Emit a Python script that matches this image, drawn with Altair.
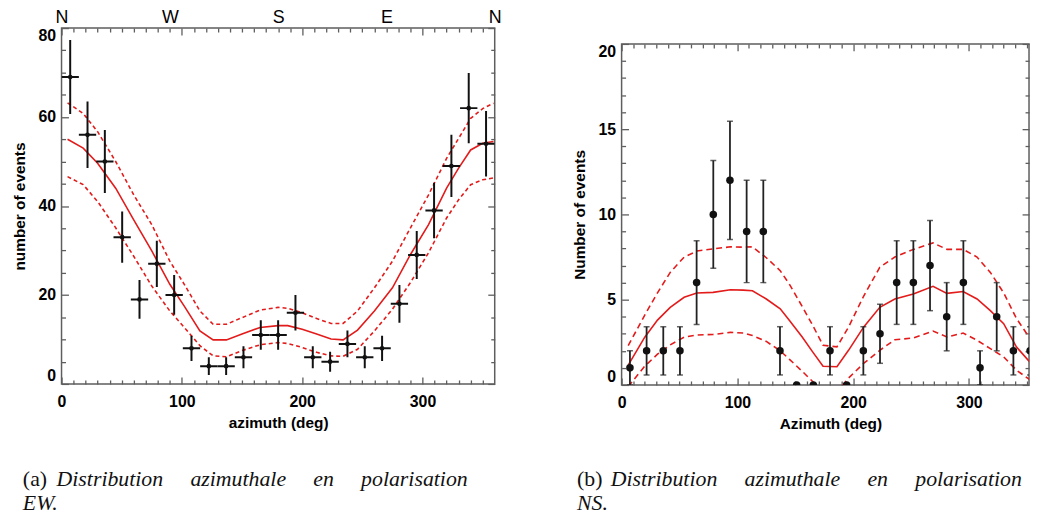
import altair as alt
import pandas as pd

# ---------------- data ----------------
AZIMUTH = [7.2, 21.6, 36.0, 50.4, 64.8, 79.2, 93.6, 108.0, 122.4, 136.8, 151.2, 165.6, 180.0,
           194.4, 208.8, 223.2, 237.6, 252.0, 266.4, 280.8, 295.2, 309.6, 324.0, 338.4, 352.8]
COUNTS_EW = [69, 56, 50, 33, 19, 27, 20, 8, 4, 4, 6, 11, 11, 16, 6, 5, 9, 6, 8, 18, 29, 39, 49, 62, 54]
COUNTS_NS = [1, 2, 2, 2, 6, 10, 12, 9, 9, 2, 0, 0, 2, 0, 2, 3, 6, 6, 7, 4, 6, 1, 4, 2, 2]

MODEL_AZ_EW = [5, 18, 30, 45, 60, 75, 90, 102, 115, 126, 137, 150, 165, 180, 188, 200, 212, 224,
               234, 246, 260, 275, 290, 305, 320, 330, 340, 350, 359]
MODEL_EW = [55.0, 53.0, 49.6, 44.0, 36.9, 29.9, 22.4, 17.5, 11.9, 9.9, 9.9, 11.2, 12.7, 13.1, 13.1,
            12.3, 11.2, 10.1, 9.9, 12.1, 16.4, 21.6, 29.1, 35.8, 44.0, 48.5, 52.6, 54.1, 54.5]
UPPER_EW = [63.2, 60.8, 56.7, 50.0, 42.5, 35.8, 27.6, 22.4, 16.4, 13.4, 13.4, 14.9, 16.6, 17.2, 17.0,
            16.0, 14.7, 13.6, 13.6, 16.4, 21.6, 27.6, 35.1, 42.5, 50.7, 55.2, 59.7, 61.9, 63.1]
LOWER_EW = [46.6, 44.8, 41.0, 35.1, 28.7, 22.0, 16.4, 12.7, 8.6, 6.3, 6.1, 7.5, 8.8, 9.3, 9.1,
            8.2, 7.1, 6.3, 6.2, 7.8, 11.9, 16.8, 22.8, 29.5, 37.3, 41.4, 44.8, 45.9, 46.3]

MODEL_AZ_NS = [5.7, 20, 31, 42, 54, 65, 79, 94, 105, 113, 125, 137, 145, 156, 165, 174, 186, 196,
               209, 223, 236, 252, 269, 281, 295, 307, 318.5, 330, 341, 355]
MODEL_NS = [1.16, 2.8, 3.8, 4.55, 5.14, 5.39, 5.43, 5.58, 5.56, 5.52, 5.04, 4.46, 3.78, 2.81, 1.94,
            1.1, 1.07, 2.03, 3.39, 4.55, 5.04, 5.33, 5.78, 5.37, 5.48, 5.04, 4.36, 3.59, 2.23, 1.16]
UPPER_NS = [2.3, 4.1, 5.4, 6.6, 7.5, 7.85, 7.98, 8.1, 8.08, 8.1, 7.46, 6.7, 5.9, 4.6, 3.5,
            2.33, 2.23, 3.39, 5.2, 6.9, 7.5, 7.95, 8.33, 7.95, 7.95, 7.5, 6.6, 5.4, 3.9, 2.5]
LOWER_NS = [-0.1, 1.1, 1.8, 2.35, 2.8, 2.93, 2.96, 3.08, 3.05, 2.9, 2.55, 2.0, 1.5, 0.8, 0.2,
            -0.4, -0.4, 0.4, 1.26, 2.03, 2.65, 2.75, 3.16, 2.81, 3.04, 2.62, 2.13, 1.65, 0.87, 0.19]

X_MAJOR = [0, 100, 200, 300]
X_MINOR = [v for v in range(10, 360, 10) if v % 100 != 0]
COMPASS_VALUES = [0, 90, 180, 270, 360]
COMPASS_LABELS = ["N", "W", "S", "E", "N"]
Y_MAJOR_EW = [0, 20, 40, 60, 80]
Y_MINOR_EW = [v for v in range(5, 80, 5) if v % 20 != 0]
Y_MAJOR_NS = [0, 5, 10, 15, 20]
Y_MINOR_NS = [v for v in range(1, 20) if v % 5 != 0]

CAPTION_PREFIX = ["(a)", "(b)"]
CAPTION_EW = ["Distribution azimuthale en polarisation", "EW."]
CAPTION_NS = ["Distribution azimuthale en polarisation", "NS."]

# ---------------- style ----------------
RED = "#e31b1b"
INK = "#111111"
FRAME = "#5e5e5e"
SANS = "Liberation Sans, Arial, sans-serif"
SERIF = "Liberation Serif, Times New Roman, serif"
MAJ, MIN = 7, 4
NBSP_GAP = "\u00a0" * 5


def axis(orient, values, size, labels=False, title=None, **kw):
    return alt.Axis(orient=orient, values=values, tickSize=size, offset=-size, domain=False,
                    grid=False, labels=labels, ticks=True, tickColor=FRAME, tickWidth=1.3,
                    title=title, minExtent=0, **kw)


def caption_layers(prefix, lines, x0, y0, gap):
    out = []
    out.append(alt.Chart(pd.DataFrame({"t": [prefix]})).mark_text(
        font=SERIF, fontSize=22, align="left", baseline="alphabetic", color="#111")
        .encode(text="t:N", x=alt.value(x0), y=alt.value(y0)))
    out.append(alt.Chart(pd.DataFrame({"t": [lines[0].replace(" ", gap)]})).mark_text(
        font=SERIF, fontSize=22, fontStyle="italic", align="left", baseline="alphabetic", color="#111")
        .encode(text="t:N", x=alt.value(x0 + 34), y=alt.value(y0)))
    out.append(alt.Chart(pd.DataFrame({"t": [lines[1]]})).mark_text(
        font=SERIF, fontSize=22, fontStyle="italic", align="left", baseline="alphabetic", color="#111")
        .encode(text="t:N", x=alt.value(x0), y=alt.value(y0 + 24)))
    return out


def panel(counts, model_az, model, upper, lower, ydom, ymaj, ymin, xmax, width, height,
          xtitle, ytitle, compass, caption, prefix, cap_x, cap_y, big, gap, title_x):
    xs = alt.Scale(domain=[0, xmax], nice=False, zero=False)
    ys = alt.Scale(domain=ydom, nice=False, zero=False)
    pts = pd.DataFrame({"az": AZIMUTH, "n": counts})
    mdf = pd.DataFrame({"az": model_az, "model": model, "upper": upper, "lower": lower})
    half = 180.0 / len(AZIMUTH)
    xmaj = [v for v in X_MAJOR if v <= xmax]
    xmin = [v for v in X_MINOR if v <= xmax]

    bottom_major = axis("bottom", xmaj, MAJ, labels=True, title=xtitle, labelPadding=10,
                        titlePadding=6, labelFlush=False, titleX=title_x)
    left_major = axis("left", ymaj, MAJ, labels=True, title=ytitle, labelPadding=6,
                      titlePadding=11, labelFlush=True)
    dash = [4, 3] if not big else [6, 4]

    layers = []
    layers.append(alt.Chart(mdf).mark_line(color=RED, strokeWidth=1.6, clip=True).encode(
        x=alt.X("az:Q", scale=xs, axis=bottom_major),
        y=alt.Y("model:Q", scale=ys, axis=left_major)))
    layers.append(alt.Chart(mdf).mark_line(color=RED, strokeWidth=1.6, strokeDash=dash, clip=True).encode(
        x=alt.X("az:Q", scale=xs, axis=axis("bottom", xmin, MIN)),
        y=alt.Y("upper:Q", scale=ys, axis=axis("left", ymin, MIN))))
    layers.append(alt.Chart(mdf).mark_line(color=RED, strokeWidth=1.6, strokeDash=dash, clip=True).encode(
        x=alt.X("az:Q", scale=xs, axis=axis("top", xmaj, MAJ)),
        y=alt.Y("lower:Q", scale=ys, axis=axis("right", ymaj, MAJ))))
    err = alt.Chart(pts).transform_calculate(
        lo="max(datum.n - sqrt(datum.n), 0)", hi="datum.n + sqrt(datum.n)")
    layers.append(err.mark_rule(color=INK if not big else "#222", strokeWidth=2 if not big else 1.8,
                                clip=True).encode(
        x=alt.X("az:Q", scale=xs, axis=axis("top", xmin, MIN)),
        y=alt.Y("lo:Q", scale=ys, axis=axis("right", ymin, MIN)),
        y2="hi:Q"))
    if compass:
        expr = "{" + ",".join(f"'{v}':'{l}'" for v, l in zip(COMPASS_VALUES, COMPASS_LABELS)) + "}[datum.value]"
        compass_axis = alt.Axis(orient="top", values=COMPASS_VALUES, ticks=False, domain=False,
                                grid=False, labelExpr=expr, labelFont=SANS,
                                labelFontWeight="normal", labelFontSize=18, labelPadding=2,
                                title=None, labelFlush=False, minExtent=0)
        layers.append(err.transform_calculate(a0=f"datum.az - {half}", a1=f"datum.az + {half}")
                      .mark_rule(color=INK, strokeWidth=2, clip=True).encode(
            x=alt.X("a0:Q", scale=xs, axis=compass_axis), x2="a1:Q",
            y=alt.Y("n:Q", scale=ys, axis=None)))
        layers.append(alt.Chart(pts).mark_circle(size=22, color=INK, opacity=1, clip=True).encode(
            x=alt.X("az:Q", scale=xs, axis=None), y=alt.Y("n:Q", scale=ys, axis=None)))
    else:
        layers.append(err.transform_filter("datum.n > 0").transform_fold(["lo", "hi"], as_=["k", "v"])
                      .mark_tick(orient="horizontal", size=6, thickness=1.5, color="#222", clip=True)
                      .encode(x=alt.X("az:Q", scale=xs, axis=None),
                              y=alt.Y("v:Q", scale=ys, axis=None)))
        layers.append(alt.Chart(pts).mark_circle(size=58, color=INK, opacity=1, clip=True).encode(
            x=alt.X("az:Q", scale=xs, axis=None), y=alt.Y("n:Q", scale=ys, axis=None)))
    layers += caption_layers(prefix, caption, cap_x, cap_y, gap)
    return alt.layer(*layers).resolve_axis(x="independent", y="independent").properties(
        width=width, height=height)


panel_a = panel(COUNTS_EW, MODEL_AZ_EW, MODEL_EW, UPPER_EW, LOWER_EW, [0, 80], Y_MAJOR_EW,
                Y_MINOR_EW, 360, 437, 359, "azimuth (deg)", "number of events", True,
                CAPTION_EW, CAPTION_PREFIX[0], -39, 462, False, NBSP_GAP, 218.5)
panel_b = panel(COUNTS_NS, MODEL_AZ_NS, MODEL_NS, UPPER_NS, LOWER_NS, [0, 20], Y_MAJOR_NS,
                Y_MINOR_NS, 351.9, 411, 344, "Azimuth (deg)", "Number of events", False,
                CAPTION_NS, CAPTION_PREFIX[1], -45, 446, True, NBSP_GAP, 210.6)

spacer = alt.Chart(pd.DataFrame({"v": [0]})).mark_point(opacity=0).encode(
    x=alt.X("v:Q", axis=None), y=alt.Y("v:Q", axis=None)).properties(
    width=20, height=1, view=alt.ViewBackground(strokeOpacity=0))

col_b = alt.vconcat(spacer, panel_b, spacing=15, bounds="flush")

chart = alt.hconcat(panel_a, col_b, spacing=128, bounds="flush").properties(
    padding={"left": 3, "top": -3, "right": 0, "bottom": 0},
    background="white",
).configure_view(stroke=FRAME, strokeWidth=1.5).configure_axis(
    labelFont=SANS, labelFontWeight="bold", labelFontSize=16, labelColor="#000",
    titleFont=SANS, titleFontWeight="bold", titleFontSize=15.5, titleColor="#000",
    minExtent=0,
)

chart.save("out.html", embed_options={"renderer": "svg", "actions": False})
